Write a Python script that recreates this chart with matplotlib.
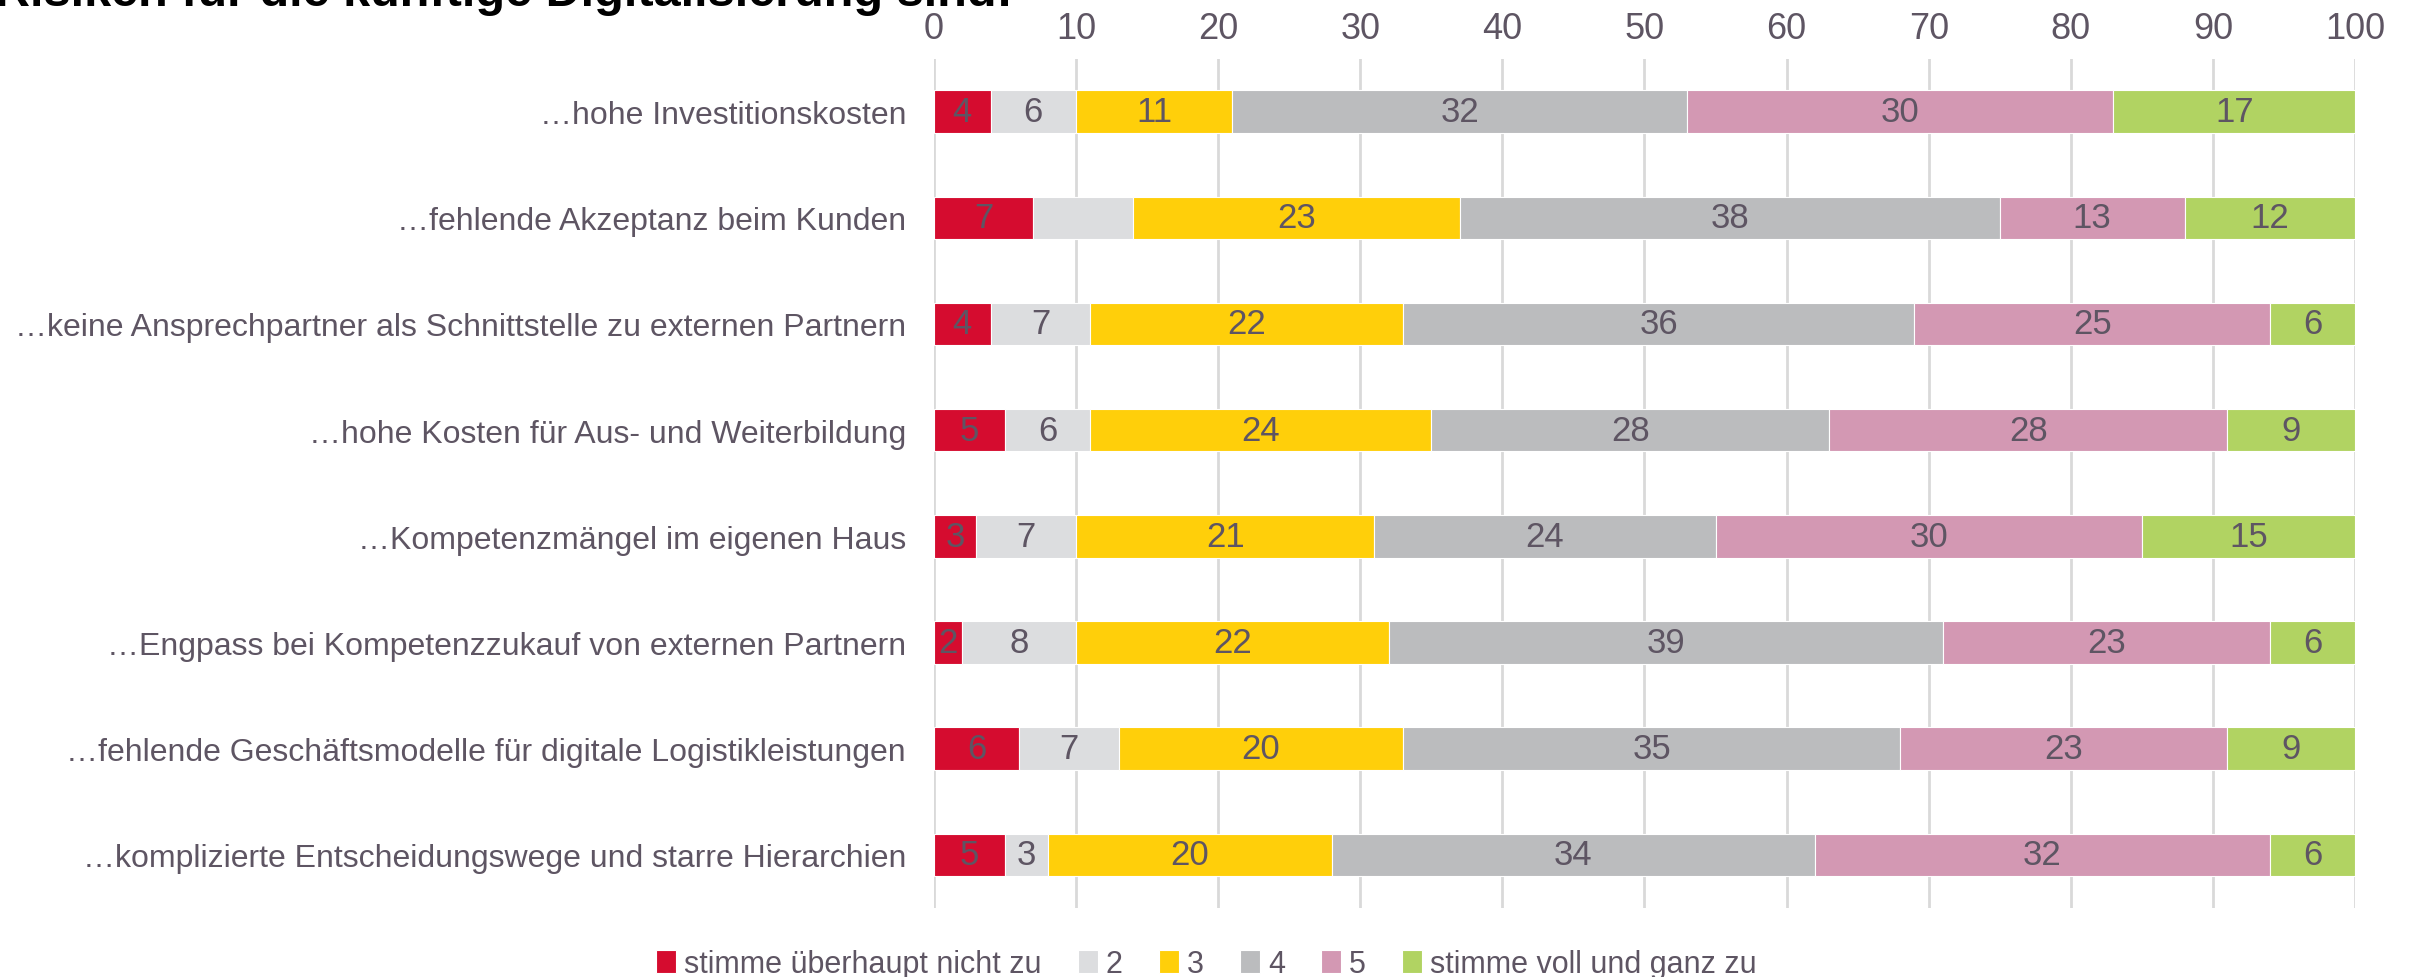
import numpy as np
import matplotlib
matplotlib.use("Agg")
import matplotlib.pyplot as plt

# Risiken der Digitalisierung, Anteile in %
categories = [
    "…hohe Investitionskosten",
    "…fehlende Akzeptanz beim Kunden",
    "…keine Ansprechpartner als Schnittstelle zu externen Partnern",
    "…hohe Kosten für Aus- und Weiterbildung",
    "…Kompetenzmängel im eigenen Haus",
    "…Engpass bei Kompetenzzukauf von externen Partnern",
    "…fehlende Geschäftsmodelle für digitale Logistikleistungen",
    "…komplizierte Entscheidungswege und starre Hierarchien",
]
series_names = ["stimme überhaupt nicht zu", "2", "3", "4", "5", "stimme voll und ganz zu"]

s1 = [4, 7, 4, 5, 3, 2, 6, 5]
s2 = [6, 7, 7, 6, 7, 8, 7, 3]
s3 = [11, 23, 22, 24, 21, 22, 20, 20]
s4 = [32, 38, 36, 28, 24, 39, 35, 34]
s5 = [30, 13, 25, 28, 30, 23, 23, 32]
s6 = [17, 12, 6, 9, 15, 6, 9, 6]

# label of "2" in row 2 is not shown in the original
hidden_labels = {(1, 1)}

colors = ["#d50c2f", "#dcdddf", "#ffcf0a", "#bbbcbe", "#d398b3", "#b1d362"]
text_col = "#5e5563"

plt.rcParams["font.family"] = ["Liberation Sans", "DejaVu Sans"]

fig = plt.figure(figsize=(24.13, 9.78), dpi=100)
ax = fig.add_axes([0.387, 0.0706, 0.589, 0.8685])

data = [s1, s2, s3, s4, s5, s6]
y = np.arange(len(categories))
left = np.zeros(len(categories))
for k, (vals, name, col) in enumerate(zip(data, series_names, colors)):
    vals = np.array(vals, dtype=float)
    bars = ax.barh(y, vals, left=left, height=0.4, color=col, label=name,
                   edgecolor="white", linewidth=0.8, zorder=3)
    labels = ["" if (i, k) in hidden_labels else f"{v:g}" for i, v in enumerate(vals)]
    ax.bar_label(bars, labels=labels, label_type="center", fontsize=25, color=text_col)
    left += vals

ax.set_xlim(0, 100)
ax.set_ylim(len(categories) - 0.5, -0.5)
ax.set_xticks(np.arange(0, 101, 10))
ax.xaxis.tick_top()
ax.tick_params(axis="x", length=0, pad=9, labelsize=26, labelcolor=text_col)
ax.set_yticks(y)
ax.set_yticklabels(categories)
ax.tick_params(axis="y", length=0, pad=20, labelsize=23, labelcolor=text_col)
ax.grid(axis="x", color="#d9d9d9", linewidth=2, zorder=0)
for sp in ax.spines.values():
    sp.set_visible(False)

# title is cut at the top edge like in the original
fig.text(-0.002, 1 - 6 / 978, "Risiken für die künftige Digitalisierung sind:",
         fontsize=35, fontweight="bold", color="black", va="baseline", ha="left")

fig.legend(loc="center", bbox_to_anchor=(0.5, 0.013), ncol=6, frameon=False,
           fontsize=22, labelcolor=text_col, handlelength=0.65, handleheight=0.75,
           handletextpad=0.25, columnspacing=1.2)

fig.savefig("out.png", dpi=100)
